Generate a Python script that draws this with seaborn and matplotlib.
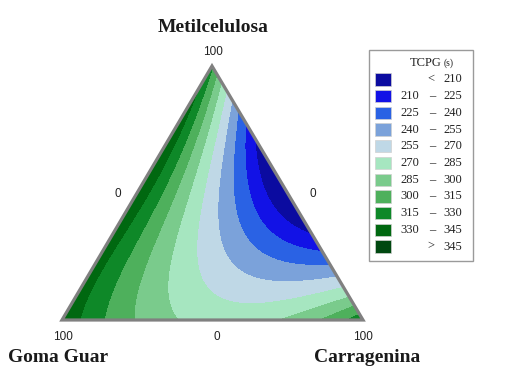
import numpy as np
import matplotlib
matplotlib.use("Agg")
import matplotlib.pyplot as plt
import matplotlib.tri as mtri
from matplotlib.patches import Polygon, Rectangle
import seaborn as sns

# Scheffe cubic mixture model for TCPG (s), coefficients matched to the contour map
# component order: Metilcelulosa (top), Goma Guar (left), Carragenina (right)
components = ["Metilcelulosa", "Goma Guar", "Carragenina"]
linear_coef = [317.3, 342.3, 325.7]
binary_coef = [56.0, -519.9, -218.4]    # MC*GG, MC*CA, GG*CA
ternary_coef = 193.3                    # MC*GG*CA
cubic_coef = [84.1, -43.2, 15.6]        # MC*GG*(MC-GG), MC*CA*(MC-CA), GG*CA*(GG-CA)

# legend bands
levels = [210, 225, 240, 255, 270, 285, 300, 315, 330, 345]
band_colors = ["#0b0ba0", "#1212e6", "#2a62e4", "#7ba2da", "#bfd8e6",
               "#a6e6c0", "#7acb8c", "#4eb05c", "#0e8828", "#006810", "#004810"]
vertex_ticks = ["100", "0"]

sns.set_theme(style="white")
plt.rcParams["font.family"] = ["Liberation Serif", "DejaVu Serif"]

# triangle corners in figure pixels (top, left, right)
corners = np.array([[212.0, 66.0], [62.0, 320.0], [363.0, 320.0]])


def tcpg(x1, x2, x3):
    b1, b2, b3 = linear_coef
    b12, b13, b23 = binary_coef
    g12, g13, g23 = cubic_coef
    return (b1 * x1 + b2 * x2 + b3 * x3
            + b12 * x1 * x2 + b13 * x1 * x3 + b23 * x2 * x3
            + ternary_coef * x1 * x2 * x3
            + g12 * x1 * x2 * (x1 - x2) + g13 * x1 * x3 * (x1 - x3)
            + g23 * x2 * x3 * (x2 - x3))


n = 160
ii, jj = np.meshgrid(np.arange(n + 1), np.arange(n + 1))
keep = ii + jj <= n
x1 = ii[keep] / n
x2 = jj[keep] / n
x3 = 1 - x1 - x2
px = x1 * corners[0, 0] + x2 * corners[1, 0] + x3 * corners[2, 0]
py = x1 * corners[0, 1] + x2 * corners[1, 1] + x3 * corners[2, 1]
z = tcpg(x1, x2, x3)

fig = plt.figure(figsize=(5.07, 3.83), dpi=100)
ax = fig.add_axes([0, 0, 1, 1])
ax.set_xlim(0, 507)
ax.set_ylim(383, 0)
ax.axis("off")

pal = sns.color_palette(band_colors)
tri = mtri.Triangulation(px, py)
ax.tricontourf(tri, z, levels=[0] + levels + [1000], colors=pal, antialiased=False)
ax.add_patch(Polygon(corners, closed=True, fill=False, edgecolor="#808080",
                     linewidth=2.3, joinstyle="miter"))

# axis names and vertex ticks
name_font = dict(fontsize=14, fontweight="bold", color="#1a1a1a")
ax.text(213, 27, components[0], ha="center", va="center", **name_font)
ax.text(58, 357, components[1], ha="center", va="center", **name_font)
ax.text(367, 357, components[2], ha="center", va="center", **name_font)

tick_font = dict(fontsize=8.5, family=["Liberation Sans", "DejaVu Sans"], color="#222222",
                 ha="center", va="center")
ax.text(213, 52, vertex_ticks[0], **tick_font)
ax.text(118, 194, vertex_ticks[1], **tick_font)
ax.text(313, 194, vertex_ticks[1], **tick_font)
ax.text(63, 337, vertex_ticks[0], **tick_font)
ax.text(217, 337, vertex_ticks[1], **tick_font)
ax.text(363, 337, vertex_ticks[0], **tick_font)

# legend
ax.add_patch(Rectangle((369, 50), 104, 211, fill=False, edgecolor="#9a9a9a", linewidth=1))
ax.text(441, 63, "TCPG", ha="right", va="center", fontsize=9, color="#222222")
ax.text(444, 63, "(s)", ha="left", va="center", fontsize=7, color="#222222")
leg_font = dict(fontsize=9, color="#222222", va="center")
for k, col in enumerate(pal):
    top = 73.3 + k * 16.7
    cy = top + 6.2
    ax.add_patch(Rectangle((375, top), 16, 12.3, facecolor=col, edgecolor="#d0d0d0", linewidth=0.5))
    if k == 0:
        ax.text(431, cy, "<", ha="center", **leg_font)
        ax.text(443, cy, str(levels[0]), ha="left", **leg_font)
    elif k == len(pal) - 1:
        ax.text(431, cy, ">", ha="center", **leg_font)
        ax.text(443, cy, str(levels[-1]), ha="left", **leg_font)
    else:
        ax.text(400, cy, str(levels[k - 1]), ha="left", **leg_font)
        ax.text(432, cy, "\u2013", ha="center", **leg_font)
        ax.text(443, cy, str(levels[k]), ha="left", **leg_font)

fig.savefig("out.png", dpi=100, facecolor="white")
